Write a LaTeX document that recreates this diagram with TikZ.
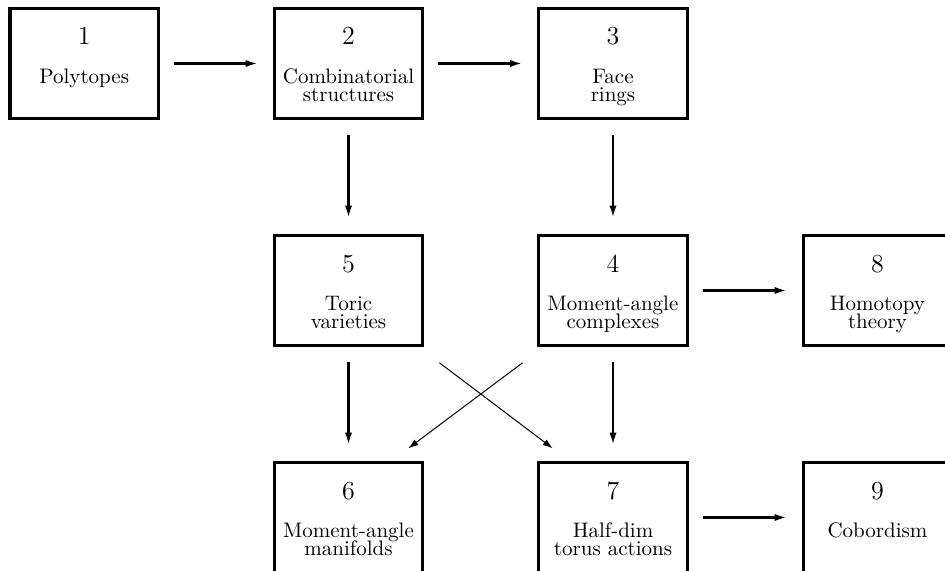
\documentclass[tikz,border=0pt]{standalone}
\usetikzlibrary{arrows.meta,calc}
\newcommand\twoline[2]{\vtop{\baselineskip=9.3pt\lineskiplimit=-100pt\halign{\hfil##\hfil\cr #1\cr #2\cr}}}
\begin{document}
\begin{tikzpicture}[x=0.5pt,y=-0.5pt,
  box/.style={draw,line width=1.6pt,minimum width=74.25pt,minimum height=55.2pt,inner sep=0pt},
  num/.style={anchor=base,inner sep=0pt,font=\fontsize{13}{15}\selectfont},
  lab/.style={anchor=base,inner sep=0pt,font=\fontsize{10.5}{9.3}\selectfont},
  arr/.style={line width=1.1pt,-{Latex[length=6pt,width=3.6pt]}},
  harr/.style={arr,shorten <=7pt,shorten >=7.5pt},
  varr/.style={arr,shorten <=7.5pt,shorten >=8pt},
  diag/.style={line width=0.5pt,-{Latex[length=5pt,width=3.4pt]}}]
\useasboundingbox (0,0) rectangle (945,571);
\clip (0,0) rectangle (945,571);
% boxes
\node[box] (b1) at (84.25,63.5) {};
\node[box] (b2) at (348.5,63.5) {};
\node[box] (b3) at (613,63.5) {};
\node[box] (b5) at (348.5,290.5) {};
\node[box] (b4) at (613,290.5) {};
\node[box] (b8) at (877.5,290.5) {};
\node[box] (b6) at (348.5,517.5) {};
\node[box] (b7) at (613,517.5) {};
\node[box] (b9) at (877.5,517.5) {};
% numbers
\node[num] (n1) at ($(b1.center)+(0,-18.5)$) {1};
\node[num] (n2) at ($(b2.center)+(0,-18.5)$) {2};
\node[num] (n3) at ($(b3.center)+(0,-18.5)$) {3};
\node[num] (n5) at ($(b5.center)+(0,-18.5)$) {5};
\node[num] (n4) at ($(b4.center)+(0,-18.5)$) {4};
\node[num] (n8) at ($(b8.center)+(0,-18.5)$) {8};
\node[num] (n6) at ($(b6.center)+(0,-18.5)$) {6};
\node[num] (n7) at ($(b7.center)+(0,-18.5)$) {7};
\node[num] (n9) at ($(b9.center)+(0,-18.5)$) {9};
% labels
\node[lab] (l1) at ($(b1.center)+(0,19.8)$) {Polytopes};
\node[lab] (l2) at ($(b2.center)+(0,19.8)$) {\twoline{Combinatorial}{structures}};
\node[lab] (l3) at ($(b3.center)+(0,19.8)$) {\twoline{Face}{rings}};
\node[lab] (l5) at ($(b5.center)+(0,19.8)$) {\twoline{Toric}{varieties}};
\node[lab] (l4) at ($(b4.center)+(0,19.8)$) {\twoline{Moment-angle}{complexes}};
\node[lab] (l8) at ($(b8.center)+(0,19.8)$) {\twoline{Homotopy}{theory}};
\node[lab] (l6) at ($(b6.center)+(0,19.8)$) {\twoline{Moment-angle}{manifolds}};
\node[lab] (l7) at ($(b7.center)+(0,19.8)$) {\twoline{Half-dim}{torus actions}};
\node[lab] (l9) at ($(b9.center)+(0,19.8)$) {Cobordism};
% arrows
\draw[harr] (b1.east) -- (b2.west);
\draw[harr] (b2.east) -- (b3.west);
\draw[varr] (b2.south) -- (b5.north);
\draw[varr] (b3.south) -- (b4.north);
\draw[harr] (b4.east) -- (b8.west);
\draw[varr] (b5.south) -- (b6.north);
\draw[varr] (b4.south) -- (b7.north);
\draw[harr] (b7.east) -- (b9.west);
\draw[diag] ($(b5.south east)+(15,15.4)$) -- ($(b7.north west)+(15.5,-12.4)$);
\draw[diag] ($(b4.south west)+(-14.5,15.4)$) -- ($(b6.north east)+(-16,-12.4)$);
\end{tikzpicture}
\end{document}
